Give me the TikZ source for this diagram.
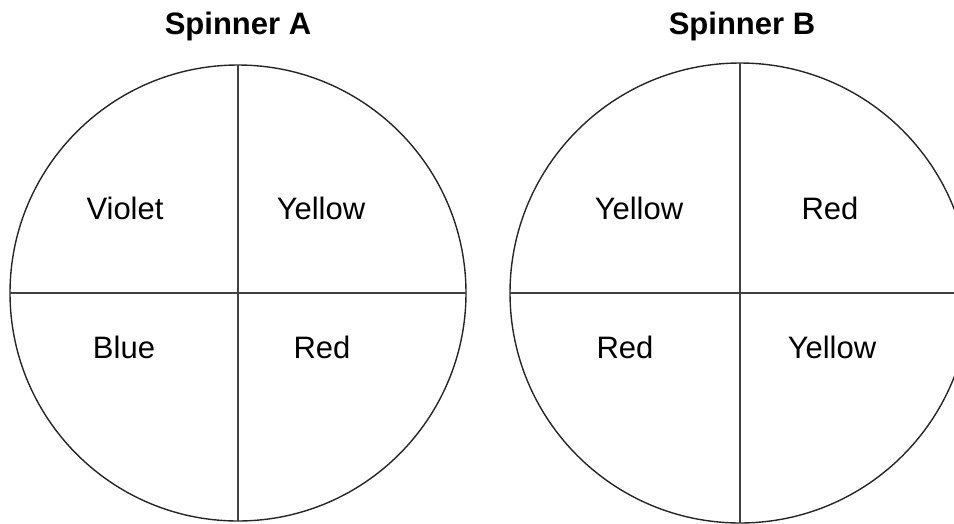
\documentclass[tikz,border=0pt]{standalone}
\usepackage{fontspec}
\setmainfont{Liberation Sans}
\begin{document}
\begin{tikzpicture}[x=1pt,y=-1pt,
  rim/.style={draw=black!85,line width=1.4pt},
  divider/.style={draw=black!75,line width=1.2pt},
  title/.style={anchor=base,font=\fontsize{31}{36}\selectfont\bfseries,inner sep=0pt},
  sector/.style={anchor=base,font=\fontsize{31}{36}\selectfont,inner sep=0pt}]
\useasboundingbox (0,0) rectangle (954,523);
\clip (0,0) rectangle (954,523);
% Spinner A
\coordinate (ca) at (238,293);
\draw[rim] (ca) circle[radius=228];
\coordinate (at) at (238,65); \coordinate (ab) at (238,521);
\coordinate (al) at (10,293); \coordinate (ar) at (466,293);
\draw[divider] (at) -- (ab);
\draw[divider] (al) -- (ar);
\node[title] (ta) at (238,34) {Spinner A};
\node[sector] (a1) at (125,219) {Violet};
\node[sector] (a2) at (321,219) {Yellow};
\node[sector] (a3) at (124,358) {Blue};
\node[sector] (a4) at (322,358) {Red};
% Spinner B
\coordinate (cb) at (740,293);
\draw[rim] (cb) circle[radius=230];
\coordinate (bt) at (740,63); \coordinate (bb) at (740,523);
\coordinate (bl) at (510,293); \coordinate (br) at (970,293);
\draw[divider] (bt) -- (bb);
\draw[divider] (bl) -- (br);
\node[title] (tb) at (742,34) {Spinner B};
\node[sector] (b1) at (639,219) {Yellow};
\node[sector] (b2) at (830,219) {Red};
\node[sector] (b3) at (625,358) {Red};
\node[sector] (b4) at (832,358) {Yellow};
\end{tikzpicture}
\end{document}
